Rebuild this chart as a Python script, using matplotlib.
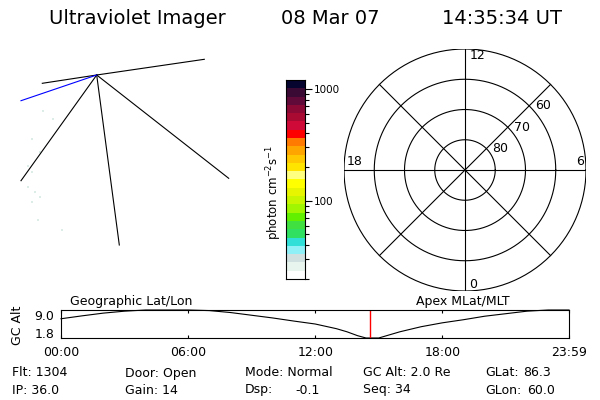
import numpy as np
import matplotlib
matplotlib.use('Agg')
import matplotlib.pyplot as plt
from matplotlib.colors import ListedColormap
from matplotlib.transforms import ScaledTranslation

# header
title_parts = ['Ultraviolet Imager', '08 Mar 07', '14:35:34 UT']

# left panel: field-of-view lines from the spacecraft (image pixel coords)
apex = (96.7, 75.0)
fov_x = [204.3, 42.3, 21.0, 119.3, 228.7]
fov_y = [59.3, 83.3, 180.7, 245.0, 178.3]
blue_x = [21.0]
blue_y = [100.7]
faint_x = [43.3, 53.3, 31.7, 40.0, 28.3, 31.7, 28.3, 35.0, 40.0, 31.7, 38.3, 61.7]
faint_y = [111.0, 119.0, 139.3, 151.7, 166.0, 171.7, 186.7, 191.7, 196.7, 201.7, 220.0, 230.0]

# colour bar, bottom to top
cb_colors = ['#ffffff', '#e8f4ee', '#d0e0e0', '#90f0f8', '#30e0d8', '#30e060',
             '#40e040', '#60f000', '#a0f500', '#c8f500', '#e8f500', '#ffff00',
             '#ffff80', '#ffe400', '#ffc800', '#ffa500', '#ff7a00', '#ff0000',
             '#d00a38', '#a80a32', '#8a0a35', '#5f0a38', '#3a0a35', '#050530']
cb_min, cb_max = 20, 1200

# polar grid
lat_rings = [80, 70, 60, 50]
mlt_labels = ['12', '18', '6', '0']

# orbit altitude strip
hours = [0, 1, 2, 3, 4, 5, 6, 7, 8, 9, 10, 11, 12, 13, 13.5, 14, 14.4,
         15, 16, 17, 18, 19, 20, 21, 22, 23, 23.98]
gc_alt = [6.75, 7.5, 8.2, 8.7, 9.0, 9.0, 9.0, 8.85, 8.35, 7.65, 6.95, 6.15, 5.4,
          4.2, 3.4, 2.4, 1.8, 1.8, 3.4, 4.7, 5.7, 6.5, 7.4, 8.05, 8.7, 9.0, 9.0]
t_now = 14 + 35 / 60 + 34 / 3600
time_ticks = [0, 6, 12, 18, 23.983]
time_labels = ['00:00', '06:00', '12:00', '18:00', '23:59']

# status lines
status_row1 = ['Flt: 1304', 'Door: Open', 'Mode: Normal', 'GC Alt: 2.0 Re', 'GLat:']
status_row2 = ['IP: 36.0', 'Gain: 14', 'Dsp:', 'Seq: 34', 'GLon:']

W, H = 600, 400
fig = plt.figure(figsize=(6, 4), dpi=100)
fig.patch.set_facecolor('white')

def fx(px):
    return px / W

def fy(py):
    return 1 - py / H

# title
for txt, x in zip(title_parts, [137, 330, 502]):
    fig.text(fx(x), fy(19), txt, ha='center', va='center', fontsize=14)

# left panel
ax_l = fig.add_axes([0, fy(260), fx(250), (260 - 40) / H])
ax_l.set_xlim(0, 250)
ax_l.set_ylim(260, 40)
ax_l.axis('off')
ax_l.scatter(faint_x, faint_y, s=3, marker='s', color='#dcece6', linewidths=0)
for x, y in zip(fov_x, fov_y):
    ax_l.plot([apex[0], x], [apex[1], y], color='black', lw=0.8)
for x, y in zip(blue_x, blue_y):
    ax_l.plot([apex[0], x], [apex[1], y], color='blue', lw=0.8)

# colour bar
ax_cb = fig.add_axes([fx(286), fy(279), fx(305) - fx(286), (279 - 80) / H])
bounds = np.geomspace(cb_min, cb_max, len(cb_colors) + 1)
ax_cb.pcolormesh([0, 1], bounds, np.arange(len(cb_colors)).reshape(-1, 1),
                 cmap=ListedColormap(cb_colors), vmin=-0.5, vmax=len(cb_colors) - 0.5)
ax_cb.set_yscale('log')
ax_cb.set_ylim(cb_min, cb_max)
ax_cb.set_xlim(0, 1)
ax_cb.set_xticks([])
ax_cb.yaxis.tick_right()
ax_cb.set_yticks([100, 1000])
ax_cb.set_yticklabels(['100', '1000'])
ax_cb.tick_params(axis='y', which='major', length=5, width=0.8, labelsize=7.5, pad=1.5)
ax_cb.tick_params(axis='y', which='minor', length=3, width=0.8)
for s in ax_cb.spines.values():
    s.set_linewidth(0.8)
fig.text(fx(274), fy(192), r'photon cm$^{-2}$s$^{-1}$', rotation=90,
         ha='center', va='center', fontsize=8.5)

# polar grid
R = 90 - min(lat_rings)
ax_p = fig.add_axes([fx(465 - 121), fy(170 + 121), 242 / W, 242 / H])
ax_p.set_xlim(-R, R)
ax_p.set_ylim(-R, R)
ax_p.axis('off')
th = np.linspace(0, 2 * np.pi, 361)
for lat in lat_rings:
    r = 90 - lat
    ax_p.plot(r * np.cos(th), r * np.sin(th), color='black', lw=0.8)
for ang in [0, 45, 90, 135]:
    a = np.deg2rad(ang)
    ax_p.plot([-R * np.cos(a), R * np.cos(a)], [-R * np.sin(a), R * np.sin(a)],
              color='black', lw=0.8)
for lat in lat_rings[:3]:
    d = (90 - lat) / np.sqrt(2)
    ax_p.text(d + 2, d, str(lat), ha='left', va='center', fontsize=9)
ax_p.text(1.5, R, mlt_labels[0], ha='left', va='top', fontsize=9)
ax_p.text(-R + 0.8, 0.7, mlt_labels[1], ha='left', va='bottom', fontsize=9)
ax_p.text(R - 0.8, 0.7, mlt_labels[2], ha='right', va='bottom', fontsize=9)
ax_p.text(1.5, -R, mlt_labels[3], ha='left', va='bottom', fontsize=9)

# orbit strip
ax_s = fig.add_axes([fx(61), fy(338), fx(569) - fx(61), 28 / H])
ax_s.plot(hours, gc_alt, color='black', lw=0.8, clip_on=False)
ax_s.axvline(t_now, color='red', lw=1)
ax_s.set_xlim(0, 23.983)
ax_s.set_ylim(min(gc_alt), max(gc_alt))
ax_s.set_xticks(time_ticks)
ax_s.set_xticklabels(time_labels)
ax_s.set_yticks([min(gc_alt), max(gc_alt)])
ax_s.set_yticklabels(['%.1f' % min(gc_alt), '%.1f' % max(gc_alt)])
ax_s.tick_params(axis='x', direction='in', length=2, width=0.8, labelsize=9, pad=6,
                 top=True)
ax_s.tick_params(axis='y', length=0, labelsize=9, pad=5)
for s in ax_s.spines.values():
    s.set_linewidth(0.8)
ylabs = ax_s.get_yticklabels()
ylabs[0].set_transform(ylabs[0].get_transform() + ScaledTranslation(0, 5 / 100, fig.dpi_scale_trans))
ylabs[1].set_transform(ylabs[1].get_transform() + ScaledTranslation(0, -5 / 100, fig.dpi_scale_trans))
ax_s.set_ylabel('GC Alt', fontsize=9)
ax_s.yaxis.set_label_coords(-0.073, 0.46)
fig.text(fx(131), fy(301), 'Geographic Lat/Lon', ha='center', va='center', fontsize=9)
fig.text(fx(463), fy(301), 'Apex MLat/MLT', ha='center', va='center', fontsize=9)

# status lines
cols = [12, 125, 245, 363, 485]
for txt, x in zip(status_row1, cols):
    fig.text(fx(x), fy(373), txt, ha='left', va='center', fontsize=9)
for txt, x in zip(status_row2, cols):
    fig.text(fx(x), fy(390), txt, ha='left', va='center', fontsize=9)
fig.text(fx(295), fy(390), '-0.1', ha='left', va='center', fontsize=9)
fig.text(fx(523), fy(373), '86.3', ha='left', va='center', fontsize=9)
fig.text(fx(527), fy(390), '60.0', ha='left', va='center', fontsize=9)

fig.savefig('out.png', dpi=100, facecolor='white')
